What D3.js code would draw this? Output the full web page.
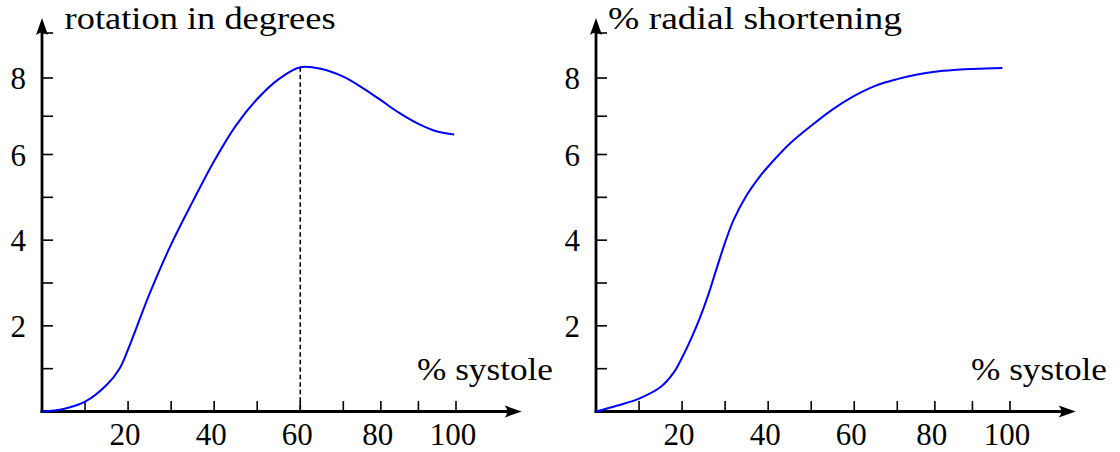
<!DOCTYPE html>
<html>
<head>
<meta charset="utf-8">
<script src="https://cdn.jsdelivr.net/npm/d3@7"></script>
<style>
  html, body { margin: 0; padding: 0; background: #fff; }
  svg { display: block; }
  svg text { font-family: 'Liberation Serif', 'Times New Roman', Times, 'DejaVu Serif', serif; }
</style>
</head>
<body>
<svg id="chart" width="1120" height="452"></svg>
<script>
// ---- data ----
const systole = [0, 5, 10, 15, 18, 20, 25, 30, 35, 40, 45, 50, 55, 60, 65, 70, 75, 80, 85, 90, 95, 99.5];
const rotation = [0, 0.06, 0.23, 0.62, 1.0, 1.45, 2.75, 3.9, 4.9, 5.85, 6.75, 7.45, 7.97, 8.24, 8.2, 8.03, 7.75, 7.42, 7.08, 6.8, 6.6, 6.52];

const systoleR = [0, 5, 10, 15, 18, 20, 22, 24, 26, 28, 30, 32, 35, 38, 40, 45, 50, 55, 60, 65, 70, 75, 80, 85, 90, 98];
const radial = [0, 0.14, 0.3, 0.57, 0.9, 1.26, 1.68, 2.15, 2.7, 3.33, 3.95, 4.48, 5.05, 5.48, 5.72, 6.28, 6.75, 7.18, 7.53, 7.8, 7.97, 8.07, 8.14, 8.18, 8.2, 8.22];

const peakX = 60;                       // dashed marker on the rotation panel
const xMajorTicks = [20, 40, 60, 80, 100];
const xMinorTicks = [10, 20, 30, 40, 50, 60, 70, 80, 90, 100];
const yMajorTicks = [2, 4, 6, 8];
const yMinorTicks = [1, 2, 3, 4, 5, 6, 7, 8, 9];

const titles = ["rotation in degrees", "% radial shortening"];
const xTitle = "% systole";

// ---- drawing ----
const svg = d3.select("#chart");

function drawPanel(ox, xsVals, ysVals, title, titleX, titleLen, dashed) {
  const g = svg.append("g").attr("transform", `translate(${ox},0)`);
  const x = d3.scaleLinear().domain([0, 70, 100]).range([42, 343.3, 456]);
  const y = d3.scaleLinear().domain([0, 6, 8, 9]).range([411.5, 154.5, 78, 33]);

  const axisW = 2.8;
  g.append("line").attr("x1", x(0) - axisW / 2).attr("x2", 512).attr("y1", y(0)).attr("y2", y(0))
    .attr("stroke", "#000").attr("stroke-width", axisW);
  const ax = 521.7, ay = y(0);
  g.append("path")
    .attr("d", `M${ax},${ay} L${ax - 17},${ay - 6} Q${ax - 12},${ay} ${ax - 17},${ay + 6} Z`)
    .attr("fill", "#000");
  g.append("line").attr("x1", x(0)).attr("x2", x(0)).attr("y1", y(0) + axisW / 2).attr("y2", 28)
    .attr("stroke", "#000").attr("stroke-width", axisW);
  const bx = x(0), by = 18;
  g.append("path")
    .attr("d", `M${bx},${by} L${bx - 6},${by + 17} Q${bx},${by + 12} ${bx + 6},${by + 17} Z`)
    .attr("fill", "#000");

  g.selectAll(".xt").data(xMinorTicks).enter().append("line")
    .attr("x1", d => x(d)).attr("x2", d => x(d))
    .attr("y1", y(0)).attr("y2", y(0) - 10.5)
    .attr("stroke", "#000").attr("stroke-width", 1.6);
  g.selectAll(".yt").data(yMinorTicks).enter().append("line")
    .attr("x1", x(0)).attr("x2", x(0) + 11)
    .attr("y1", d => y(d)).attr("y2", d => y(d))
    .attr("stroke", "#000").attr("stroke-width", 1.6);

  g.selectAll(".xl").data(xMajorTicks).enter().append("text")
    .attr("x", d => x(d) - 3).attr("y", 445)
    .attr("text-anchor", "middle").attr("font-size", 31)
    .text(d => d);
  g.selectAll(".yl").data(yMajorTicks).enter().append("text")
    .attr("x", 26).attr("y", d => y(d) + 11)
    .attr("text-anchor", "end").attr("font-size", 31)
    .text(d => d);

  g.append("text").attr("x", titleX).attr("y", 29)
    .attr("font-size", 32)
    .attr("textLength", titleLen).attr("lengthAdjust", "spacingAndGlyphs")
    .text(title);
  g.append("text").attr("x", 417).attr("y", 380)
    .attr("font-size", 32)
    .attr("textLength", 136).attr("lengthAdjust", "spacingAndGlyphs")
    .text(xTitle);

  if (dashed) {
    const i = xsVals.indexOf(peakX);
    g.append("line")
      .attr("x1", x(peakX)).attr("x2", x(peakX))
      .attr("y1", y(ysVals[i])).attr("y2", y(0))
      .attr("stroke", "#000").attr("stroke-width", 1.6)
      .attr("stroke-dasharray", "4.5,3");
  }

  const line = d3.line().x(d => x(d[0])).y(d => y(d[1])).curve(d3.curveCatmullRom.alpha(0.5));
  g.append("path")
    .datum(xsVals.map((v, i) => [v, ysVals[i]]))
    .attr("d", line)
    .attr("fill", "none").attr("stroke", "#0000ff").attr("stroke-width", 2);
}

drawPanel(0, systole, rotation, titles[0], 64.6, 271, true);
drawPanel(554, systoleR, radial, titles[1], 54, 294, false);
</script>
</body>
</html>
